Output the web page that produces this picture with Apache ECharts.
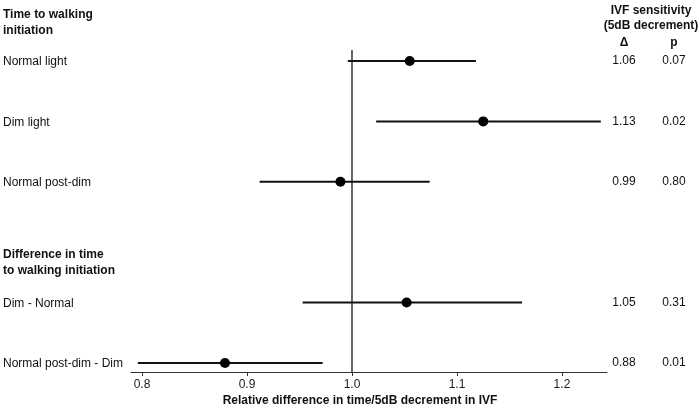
<!DOCTYPE html>
<html>
<head>
<meta charset="utf-8">
<script src="https://cdn.jsdelivr.net/npm/echarts@6/dist/echarts.min.js"></script>
<style>
  html, body { margin: 0; padding: 0; background: #fff; }
  #chart { width: 700px; height: 410px; }
</style>
</head>
<body>
<div id="chart"></div>
<script>
// rows of the forest plot (y = row slot, headers sit in the gaps)
const rowLabels = ['Normal light', 'Dim light', 'Normal post-dim', 'Dim - Normal', 'Normal post-dim - Dim']
const rowSlots = [1, 2, 3, 5, 6]
const estimates = [1.055, 1.125, 0.989, 1.052, 0.879]
const lowerCI = [0.996, 1.023, 0.912, 0.953, 0.796]
const upperCI = [1.118, 1.237, 1.074, 1.162, 0.972]
const deltaText = ['1.06', '1.13', '0.99', '1.05', '0.88']
const pText = ['0.07', '0.02', '0.80', '0.31', '0.01']
const xTicks = [0.8, 0.9, 1.0, 1.1, 1.2]

const FONT = 'Liberation Sans, Arial, Helvetica, sans-serif'
const INK = '#111'

const chart = echarts.init(document.getElementById('chart'), null, { renderer: 'canvas' })

const rowData = rowSlots.map((s, i) => [estimates[i], s, lowerCI[i], upperCI[i], i])

chart.setOption({
    backgroundColor: '#fff',
    animation: false,
    grid: { left: 131, right: 93, top: 0, bottom: 38 },
    xAxis: {
        type: 'value',
        min: 0.7895,
        max: 1.2429,
        splitLine: { show: false },
        axisLine: { show: true, onZero: false, lineStyle: { color: '#333', width: 1 } },
        axisTick: { show: true, length: 4, customValues: xTicks, lineStyle: { color: '#333' } },
        axisLabel: {
            customValues: xTicks,
            formatter: v => v.toFixed(1),
            color: '#222',
            fontFamily: FONT,
            fontSize: 12,
            margin: 7
        }
    },
    yAxis: {
        type: 'value',
        inverse: true,
        min: -0.01,
        max: 6.15,
        show: false
    },
    graphic: [
        { type: 'text', left: 3, top: 7, style: { text: 'Time to walking\ninitiation', font: 'bold 12px ' + FONT, fill: INK, lineHeight: 16 } },
        { type: 'text', left: 3, top: 247, style: { text: 'Difference in time\nto walking initiation', font: 'bold 12px ' + FONT, fill: INK, lineHeight: 16 } },
        { type: 'text', x: 651, y: 3, style: { text: 'IVF sensitivity\n(5dB decrement)', font: 'bold 12px ' + FONT, fill: INK, align: 'center', lineHeight: 15 } },
        { type: 'text', x: 624, y: 37, style: { text: 'Δ', font: 'bold 12px ' + FONT, fill: INK, align: 'center' } },
        { type: 'text', x: 674, y: 37, style: { text: 'p', font: 'bold 12px ' + FONT, fill: INK, align: 'center' } },
        { type: 'text', x: 360, y: 395, style: { text: 'Relative difference in time/5dB decrement in IVF', font: 'bold 12px ' + FONT, fill: INK, align: 'center' } }
    ],
    series: [
        {
            // null-effect reference line
            type: 'line',
            data: [[1, 0.82], [1, 6.15]],
            symbol: 'none',
            silent: true,
            lineStyle: { color: '#333', width: 1.5 },
            z: 1
        },
        {
            type: 'custom',
            data: rowData,
            encode: { x: [0, 2, 3], y: 1 },
            renderItem: (params, api) => {
                const y = api.coord([1, api.value(1)])[1]
                const lo = api.coord([api.value(2), api.value(1)])
                const hi = api.coord([api.value(3), api.value(1)])
                const idx = api.value(4)
                return {
                    type: 'group',
                    children: [
                        { type: 'line', shape: { x1: lo[0], y1: y, x2: hi[0], y2: y }, style: { stroke: INK, lineWidth: 2 } },
                        { type: 'text', x: 3, y: y + 1, style: { text: rowLabels[idx], font: '12px ' + FONT, fill: INK, verticalAlign: 'middle' } },
                        { type: 'text', x: 624, y: y, style: { text: deltaText[idx], font: '12px ' + FONT, fill: INK, align: 'center', verticalAlign: 'middle' } },
                        { type: 'text', x: 674, y: y, style: { text: pText[idx], font: '12px ' + FONT, fill: INK, align: 'center', verticalAlign: 'middle' } }
                    ]
                }
            },
            z: 2
        },
        {
            type: 'scatter',
            data: rowData.map(d => [d[0], d[1]]),
            symbol: 'circle',
            symbolSize: 10,
            itemStyle: { color: '#000', opacity: 1 },
            z: 3
        }
    ]
})
</script>
</body>
</html>
